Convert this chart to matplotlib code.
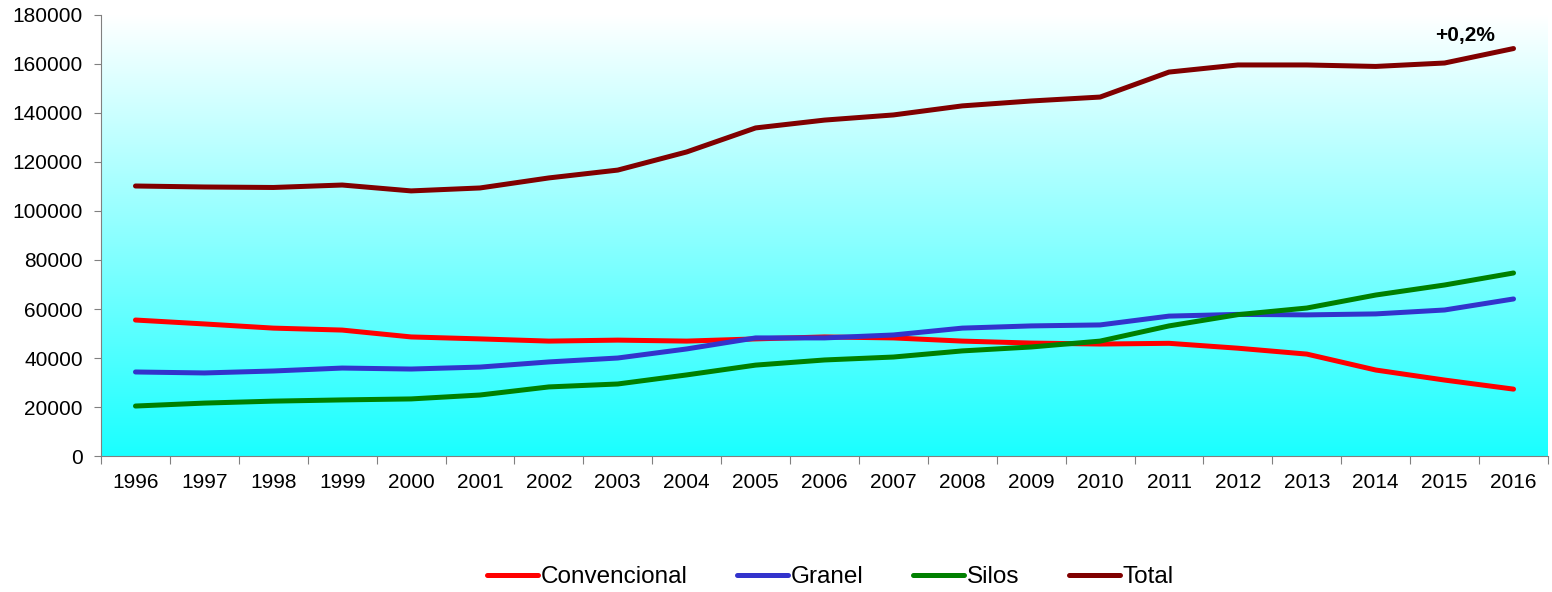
import numpy as np
import matplotlib
matplotlib.use("Agg")
import matplotlib.pyplot as plt
from matplotlib.colors import LinearSegmentedColormap

plt.rcParams['font.family'] = ['Liberation Sans', 'DejaVu Sans']

years = [str(y) for y in range(1996, 2017)]
convencional = [55500, 53900, 52200, 51400, 48600, 47800, 46900, 47300, 46900, 47800,
                48600, 48200, 46900, 46100, 45700, 46000, 44000, 41600, 35100, 31000, 27300]
granel = [34300, 33900, 34700, 35900, 35500, 36300, 38400, 40000, 43700, 48200,
          48200, 49400, 52200, 53100, 53500, 57100, 57800, 57600, 58000, 59600, 64100]
silos = [20400, 21600, 22400, 22900, 23300, 24900, 28200, 29400, 33100, 37100,
         39200, 40400, 42900, 44500, 46900, 53100, 57700, 60400, 65700, 69800, 74700]
total = [110200, 109800, 109600, 110600, 108200, 109400, 113500, 116700, 124100, 133900,
         137100, 139200, 142900, 144900, 146500, 156700, 159600, 159600, 159000, 160400, 166300]

fig = plt.figure(figsize=(15.52, 5.92), dpi=100)
ax = fig.add_axes([0.0651, 0.2297, 0.9323, 0.745])

x = np.arange(len(years))
ax.set_xlim(-0.5, len(years) - 0.5)
ax.set_ylim(0, 180000)

# background gradient white -> cyan
cmap = LinearSegmentedColormap.from_list('bg', ['#1AFFFF', '#FFFFFF'])
grad = np.linspace(0, 1, 256).reshape(-1, 1)
ax.imshow(grad, aspect='auto', cmap=cmap, origin='lower',
          extent=[-0.5, len(years) - 0.5, 0, 180000], zorder=0)

lw = 3.6
ax.plot(x, convencional, color='#FF0000', lw=lw, label='Convencional', solid_capstyle='round', zorder=3)
ax.plot(x, granel, color='#3333CC', lw=lw, label='Granel', solid_capstyle='round', zorder=3)
ax.plot(x, silos, color='#008000', lw=lw, label='Silos', solid_capstyle='round', zorder=3)
ax.plot(x, total, color='#800000', lw=lw, label='Total', solid_capstyle='round', zorder=3)

ax.text(19.3, 171500, '+0,2%', ha='center', va='center',
        fontsize=15, fontweight='bold')

ax.set_yticks(np.arange(0, 180001, 20000))
ax.set_yticklabels([str(v) for v in range(0, 180001, 20000)], fontsize=15)
ax.set_xticks(np.arange(-0.5, len(years)), minor=False)
ax.set_xticklabels([])
ax.set_xticks(x, minor=True)
ax.set_xticklabels(years, minor=True, fontsize=15)
ax.tick_params(axis='x', which='major', direction='out', length=6, color='#808080')
ax.tick_params(axis='x', which='minor', length=0, pad=12)
ax.tick_params(axis='y', direction='out', length=5, color='#808080', pad=8)

for s in ['top', 'right']:
    ax.spines[s].set_visible(False)
for s in ['left', 'bottom']:
    ax.spines[s].set_color('#808080')

leg = fig.legend(loc='center', bbox_to_anchor=(0.535, 0.025), ncol=4, frameon=False,
                 fontsize=17.5, handlelength=2.1, handletextpad=0.1, columnspacing=2.05)

fig.savefig('out.png', dpi=100)
